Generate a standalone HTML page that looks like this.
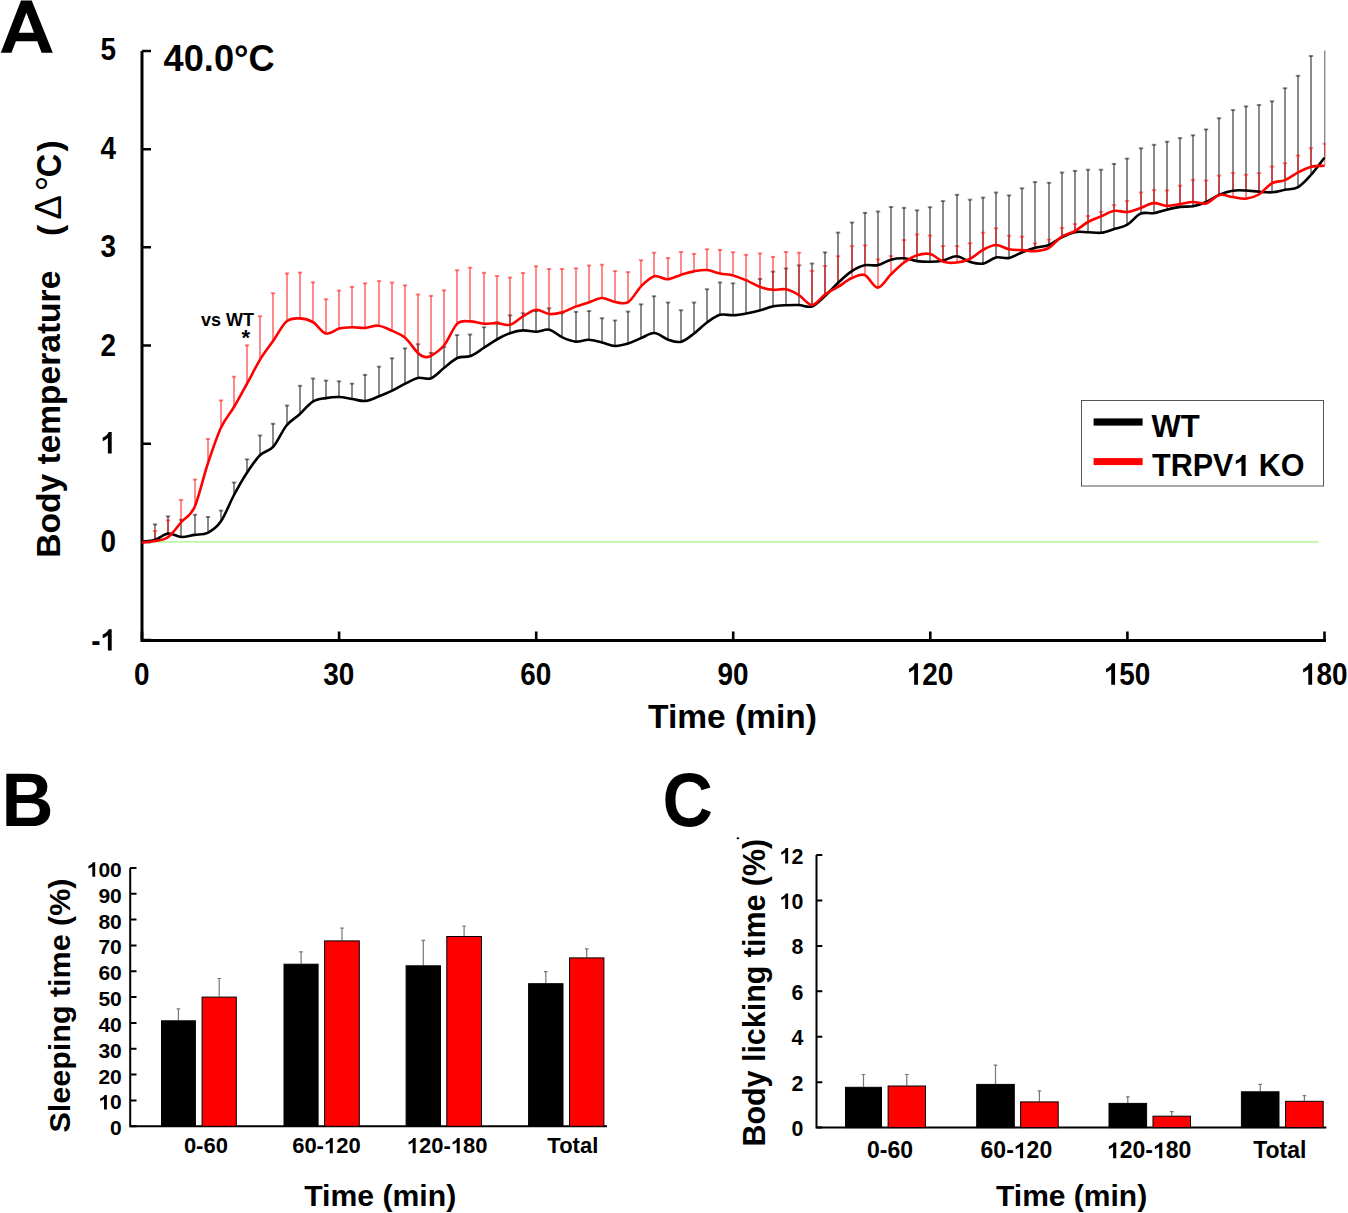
<!DOCTYPE html>
<html><head><meta charset="utf-8"><title>Figure</title>
<style>
html,body{margin:0;padding:0;background:#fff;}
svg{display:block;font-family:"Liberation Sans",sans-serif;}
</style></head>
<body>
<svg width="1348" height="1213" viewBox="0 0 1348 1213">
<rect width="1348" height="1213" fill="#fff"/>
<path fill="#000" fill-rule="evenodd" d="M0.8,52.8L21,0.4H31.7L52.8,52.8H41.6L37.3,41.2H15.9L11.5,52.8Z M18.8,32.8H34L26.4,12.8Z"/>
<path d="M142,51 V640.5 H1326" stroke="#000" stroke-width="3" fill="none"/>
<path d="M142,51.0h9 M142,149.2h9 M142,247.3h9 M142,345.5h9 M142,443.7h9 M142,541.9h9 M142,640.0h9 M142.0,640.5v-9 M339.1,640.5v-9 M536.2,640.5v-9 M733.2,640.5v-9 M930.3,640.5v-9 M1127.4,640.5v-9 M1324.5,640.5v-9" stroke="#000" stroke-width="2.6" fill="none"/>
<text transform="translate(116.00,59.90) scale(0.9,1)" font-size="31" font-weight="bold" text-anchor="end">5</text>
<text transform="translate(116.00,159.00) scale(0.9,1)" font-size="31" font-weight="bold" text-anchor="end">4</text>
<text transform="translate(116.00,256.70) scale(0.9,1)" font-size="31" font-weight="bold" text-anchor="end">3</text>
<text transform="translate(116.00,355.80) scale(0.9,1)" font-size="31" font-weight="bold" text-anchor="end">2</text>
<text transform="translate(116.00,453.40) scale(0.9,1)" font-size="31" font-weight="bold" text-anchor="end"> </text>
<text transform="translate(116.00,551.90) scale(0.9,1)" font-size="31" font-weight="bold" text-anchor="end">0</text>
<text transform="translate(116.00,650.50) scale(0.9,1)" font-size="31" font-weight="bold" text-anchor="end">- </text>
<text transform="translate(141.70,684.70) scale(0.9,1)" font-size="31" font-weight="bold" text-anchor="middle">0</text>
<text transform="translate(338.78,684.70) scale(0.9,1)" font-size="31" font-weight="bold" text-anchor="middle">30</text>
<text transform="translate(535.86,684.70) scale(0.9,1)" font-size="31" font-weight="bold" text-anchor="middle">60</text>
<text transform="translate(732.94,684.70) scale(0.9,1)" font-size="31" font-weight="bold" text-anchor="middle">90</text>
<text transform="translate(930.02,684.70) scale(0.9,1)" font-size="31" font-weight="bold" text-anchor="middle"> 20</text>
<text transform="translate(1127.10,684.70) scale(0.9,1)" font-size="31" font-weight="bold" text-anchor="middle"> 50</text>
<text transform="translate(1324.18,684.70) scale(0.9,1)" font-size="31" font-weight="bold" text-anchor="middle"> 80</text>
<text x="648" y="728.3" font-size="34" font-weight="bold" textLength="169" lengthAdjust="spacingAndGlyphs">Time (min)</text>
<text transform="translate(163.60,71.40) scale(0.978,1)" font-size="37" font-weight="bold">40.0°C</text>
<text transform="translate(60,557.7) rotate(-90)" x="0" y="0" font-size="34" font-weight="bold" textLength="287" lengthAdjust="spacingAndGlyphs">Body temperature</text>
<text transform="translate(61,236) rotate(-90)" x="0" y="0" font-size="34" font-weight="bold">(</text>
<text transform="translate(61,219.6) rotate(-90)" x="0" y="0" font-size="36.5">Δ</text>
<text transform="translate(63.6,191.5) rotate(-90)" x="0" y="0" font-size="40">°</text>
<text transform="translate(61,177.2) rotate(-90) scale(0.9,1)" x="0" y="0" font-size="36" font-weight="bold">C</text>
<text transform="translate(61,151.5) rotate(-90)" x="0" y="0" font-size="34" font-weight="bold">)</text>
<path d="M143,541.9H1318.6" stroke="#bdf8a4" stroke-width="1.6"/>
<g stroke="rgba(0,0,0,0.46)" stroke-width="2" fill="none"><path d="M155,539.8V524.1"/><path d="M152.8,524.4h4.4"/><path d="M168,533.5V516.1"/><path d="M165.8,516.4h4.4"/><path d="M181,537.0V519.5"/><path d="M178.8,519.8h4.4"/><path d="M195,534.9V514.5"/><path d="M192.8,514.8h4.4"/><path d="M208,532.8V516.7"/><path d="M205.8,517.0h4.4"/><path d="M221,521.6V510.3"/><path d="M218.8,510.6h4.4"/><path d="M234,495.0V482.2"/><path d="M231.8,482.5h4.4"/><path d="M247,472.5V459.0"/><path d="M244.8,459.3h4.4"/><path d="M260,455.0V435.2"/><path d="M257.8,435.5h4.4"/><path d="M273,446.6V423.5"/><path d="M270.8,423.8h4.4"/><path d="M287,425.5V405.2"/><path d="M284.8,405.5h4.4"/><path d="M300,414.2V385.5"/><path d="M297.8,385.8h4.4"/><path d="M313,401.6V378.2"/><path d="M310.8,378.5h4.4"/><path d="M326,398.1V380.3"/><path d="M323.8,380.6h4.4"/><path d="M339,397.0V381.0"/><path d="M336.8,381.3h4.4"/><path d="M352,399.0V383.3"/><path d="M349.8,383.6h4.4"/><path d="M365,401.0V374.6"/><path d="M362.8,374.9h4.4"/><path d="M379,396.5V366.4"/><path d="M376.8,366.7h4.4"/><path d="M392,390.9V358.0"/><path d="M389.8,358.3h4.4"/><path d="M405,383.9V348.1"/><path d="M402.8,348.4h4.4"/><path d="M418,377.9V343.9"/><path d="M415.8,344.2h4.4"/><path d="M431,378.3V352.6"/><path d="M428.8,352.9h4.4"/><path d="M444,367.8V346.7"/><path d="M441.8,347.0h4.4"/><path d="M457,358.0V334.8"/><path d="M454.8,335.1h4.4"/><path d="M470,356.0V334.2"/><path d="M467.8,334.5h4.4"/><path d="M484,348.0V326.9"/><path d="M481.8,327.2h4.4"/><path d="M497,339.5V322.0"/><path d="M494.8,322.3h4.4"/><path d="M510,333.2V315.0"/><path d="M507.8,315.3h4.4"/><path d="M523,330.4V312.9"/><path d="M520.8,313.2h4.4"/><path d="M536,331.8V310.8"/><path d="M533.8,311.1h4.4"/><path d="M549,329.7V308.0"/><path d="M546.8,308.3h4.4"/><path d="M562,337.4V312.9"/><path d="M559.8,313.2h4.4"/><path d="M576,341.6V311.5"/><path d="M573.8,311.8h4.4"/><path d="M589,339.8V310.8"/><path d="M586.8,311.1h4.4"/><path d="M602,342.5V317.9"/><path d="M599.8,318.2h4.4"/><path d="M615,346.0V320.2"/><path d="M612.8,320.5h4.4"/><path d="M628,343.6V311.3"/><path d="M625.8,311.6h4.4"/><path d="M641,338.0V304.0"/><path d="M638.8,304.3h4.4"/><path d="M654,333.0V295.9"/><path d="M651.8,296.2h4.4"/><path d="M668,339.4V302.2"/><path d="M665.8,302.5h4.4"/><path d="M681,341.9V309.9"/><path d="M678.8,310.2h4.4"/><path d="M694,333.7V302.2"/><path d="M691.8,302.5h4.4"/><path d="M707,322.5V288.9"/><path d="M704.8,289.2h4.4"/><path d="M720,314.8V282.2"/><path d="M717.8,282.5h4.4"/><path d="M733,315.3V283.0"/><path d="M730.8,283.3h4.4"/><path d="M746,313.5V279.7"/><path d="M743.8,280.0h4.4"/><path d="M760,310.6V278.6"/><path d="M757.8,278.9h4.4"/><path d="M773,306.4V271.3"/><path d="M770.8,271.6h4.4"/><path d="M786,305.2V268.2"/><path d="M783.8,268.5h4.4"/><path d="M799,305.0V265.0"/><path d="M796.8,265.3h4.4"/><path d="M812,306.4V263.2"/><path d="M809.8,263.5h4.4"/><path d="M825,295.8V252.1"/><path d="M822.8,252.4h4.4"/><path d="M838,282.5V232.3"/><path d="M835.8,232.6h4.4"/><path d="M852,271.3V222.2"/><path d="M849.8,222.5h4.4"/><path d="M865,265.2V212.6"/><path d="M862.8,212.9h4.4"/><path d="M878,265.2V211.2"/><path d="M875.8,211.5h4.4"/><path d="M891,259.7V206.7"/><path d="M888.8,207.0h4.4"/><path d="M904,258.3V207.6"/><path d="M901.8,207.9h4.4"/><path d="M917,261.1V210.0"/><path d="M914.8,210.3h4.4"/><path d="M930,261.8V206.9"/><path d="M927.8,207.2h4.4"/><path d="M943,260.4V200.8"/><path d="M940.8,201.1h4.4"/><path d="M957,256.2V194.5"/><path d="M954.8,194.8h4.4"/><path d="M970,261.8V199.4"/><path d="M967.8,199.7h4.4"/><path d="M983,263.6V197.3"/><path d="M980.8,197.6h4.4"/><path d="M996,257.5V192.2"/><path d="M993.8,192.5h4.4"/><path d="M1009,257.9V195.1"/><path d="M1006.8,195.4h4.4"/><path d="M1022,252.2V188.0"/><path d="M1019.8,188.3h4.4"/><path d="M1035,247.7V181.8"/><path d="M1032.8,182.1h4.4"/><path d="M1049,245.1V182.5"/><path d="M1046.8,182.8h4.4"/><path d="M1062,237.4V172.2"/><path d="M1059.8,172.5h4.4"/><path d="M1075,232.2V170.6"/><path d="M1072.8,170.9h4.4"/><path d="M1088,232.2V169.4"/><path d="M1085.8,169.7h4.4"/><path d="M1101,232.8V169.4"/><path d="M1098.8,169.7h4.4"/><path d="M1114,229.0V163.6"/><path d="M1111.8,163.9h4.4"/><path d="M1127,224.6V158.3"/><path d="M1124.8,158.6h4.4"/><path d="M1141,213.6V148.0"/><path d="M1138.8,148.3h4.4"/><path d="M1154,213.2V144.5"/><path d="M1151.8,144.8h4.4"/><path d="M1167,209.7V141.4"/><path d="M1164.8,141.7h4.4"/><path d="M1180,206.9V137.8"/><path d="M1177.8,138.1h4.4"/><path d="M1193,206.2V135.0"/><path d="M1190.8,135.3h4.4"/><path d="M1206,202.0V129.1"/><path d="M1203.8,129.4h4.4"/><path d="M1219,194.7V117.9"/><path d="M1216.8,118.2h4.4"/><path d="M1233,190.7V109.8"/><path d="M1230.8,110.1h4.4"/><path d="M1246,190.5V106.1"/><path d="M1243.8,106.4h4.4"/><path d="M1259,191.7V104.7"/><path d="M1256.8,105.0h4.4"/><path d="M1272,192.3V101.0"/><path d="M1269.8,101.3h4.4"/><path d="M1285,189.7V87.9"/><path d="M1282.8,88.2h4.4"/><path d="M1298,187.1V75.5"/><path d="M1295.8,75.8h4.4"/><path d="M1311,174.5V55.7"/><path d="M1308.8,56.0h4.4"/><path d="M1324.7,157.7V50.5" stroke-width="1.4"/></g>
<g stroke="rgba(255,0,0,0.46)" stroke-width="2" fill="none"><path d="M155,541.0V530.7"/><path d="M152.8,531.0h4.4"/><path d="M168,537.0V520.1"/><path d="M165.8,520.4h4.4"/><path d="M181,522.0V499.6"/><path d="M178.8,499.9h4.4"/><path d="M195,507.0V479.2"/><path d="M192.8,479.5h4.4"/><path d="M208,464.0V438.7"/><path d="M205.8,439.0h4.4"/><path d="M221,428.0V400.1"/><path d="M218.8,400.4h4.4"/><path d="M234,407.0V376.4"/><path d="M231.8,376.7h4.4"/><path d="M247,383.5V345.0"/><path d="M244.8,345.3h4.4"/><path d="M260,359.3V315.9"/><path d="M257.8,316.2h4.4"/><path d="M273,340.5V292.9"/><path d="M270.8,293.2h4.4"/><path d="M287,321.5V273.1"/><path d="M284.8,273.4h4.4"/><path d="M300,318.4V272.3"/><path d="M297.8,272.6h4.4"/><path d="M313,322.0V282.0"/><path d="M310.8,282.3h4.4"/><path d="M326,333.6V298.9"/><path d="M323.8,299.2h4.4"/><path d="M339,328.6V290.2"/><path d="M336.8,290.5h4.4"/><path d="M352,327.3V286.6"/><path d="M349.8,286.9h4.4"/><path d="M365,327.9V283.0"/><path d="M362.8,283.3h4.4"/><path d="M379,325.7V280.8"/><path d="M376.8,281.1h4.4"/><path d="M392,330.6V282.2"/><path d="M389.8,282.5h4.4"/><path d="M405,337.6V285.0"/><path d="M402.8,285.3h4.4"/><path d="M418,353.0V294.2"/><path d="M415.8,294.5h4.4"/><path d="M431,355.8V295.6"/><path d="M428.8,295.9h4.4"/><path d="M444,345.3V290.0"/><path d="M441.8,290.3h4.4"/><path d="M457,323.6V269.9"/><path d="M454.8,270.2h4.4"/><path d="M470,321.4V267.4"/><path d="M467.8,267.7h4.4"/><path d="M484,323.8V272.5"/><path d="M481.8,272.8h4.4"/><path d="M497,323.1V275.7"/><path d="M494.8,276.0h4.4"/><path d="M510,324.8V277.2"/><path d="M507.8,277.5h4.4"/><path d="M523,316.4V272.7"/><path d="M520.8,273.0h4.4"/><path d="M536,309.8V265.9"/><path d="M533.8,266.2h4.4"/><path d="M549,314.0V268.7"/><path d="M546.8,269.0h4.4"/><path d="M562,312.2V268.7"/><path d="M559.8,269.0h4.4"/><path d="M576,306.6V268.0"/><path d="M573.8,268.3h4.4"/><path d="M589,302.4V265.2"/><path d="M586.8,265.5h4.4"/><path d="M602,298.0V264.4"/><path d="M599.8,264.7h4.4"/><path d="M615,302.0V270.8"/><path d="M612.8,271.1h4.4"/><path d="M628,302.2V271.8"/><path d="M625.8,272.1h4.4"/><path d="M641,286.1V259.9"/><path d="M638.8,260.2h4.4"/><path d="M654,276.3V252.4"/><path d="M651.8,252.7h4.4"/><path d="M668,279.3V257.8"/><path d="M665.8,258.1h4.4"/><path d="M681,274.9V251.7"/><path d="M678.8,252.0h4.4"/><path d="M694,271.4V253.6"/><path d="M691.8,253.9h4.4"/><path d="M707,270.0V248.9"/><path d="M704.8,249.2h4.4"/><path d="M720,273.5V249.6"/><path d="M717.8,249.9h4.4"/><path d="M733,275.4V251.9"/><path d="M730.8,252.2h4.4"/><path d="M746,280.4V254.5"/><path d="M743.8,254.8h4.4"/><path d="M760,286.7V253.1"/><path d="M757.8,253.4h4.4"/><path d="M773,289.8V256.6"/><path d="M770.8,256.9h4.4"/><path d="M786,289.3V251.7"/><path d="M783.8,252.0h4.4"/><path d="M799,295.1V252.4"/><path d="M796.8,252.7h4.4"/><path d="M812,305.0V270.6"/><path d="M809.8,270.9h4.4"/><path d="M825,294.4V265.7"/><path d="M822.8,266.0h4.4"/><path d="M838,286.7V255.9"/><path d="M835.8,256.2h4.4"/><path d="M852,278.3V245.8"/><path d="M849.8,246.1h4.4"/><path d="M865,275.0V245.0"/><path d="M862.8,245.3h4.4"/><path d="M878,287.6V259.0"/><path d="M875.8,259.3h4.4"/><path d="M891,274.4V255.8"/><path d="M888.8,256.1h4.4"/><path d="M904,262.5V239.7"/><path d="M901.8,240.0h4.4"/><path d="M917,255.2V234.1"/><path d="M914.8,234.4h4.4"/><path d="M930,254.1V235.2"/><path d="M927.8,235.5h4.4"/><path d="M943,261.8V245.7"/><path d="M940.8,246.0h4.4"/><path d="M957,262.5V245.7"/><path d="M954.8,246.0h4.4"/><path d="M970,259.0V242.9"/><path d="M967.8,243.2h4.4"/><path d="M983,249.9V232.4"/><path d="M980.8,232.7h4.4"/><path d="M996,245.0V227.9"/><path d="M993.8,228.2h4.4"/><path d="M1009,249.3V235.4"/><path d="M1006.8,235.7h4.4"/><path d="M1022,250.1V236.3"/><path d="M1019.8,236.6h4.4"/><path d="M1035,251.2V243.0"/><path d="M1032.8,243.3h4.4"/><path d="M1049,248.0V239.3"/><path d="M1046.8,239.6h4.4"/><path d="M1062,236.7V227.6"/><path d="M1059.8,227.9h4.4"/><path d="M1075,231.1V223.8"/><path d="M1072.8,224.1h4.4"/><path d="M1088,222.0V215.7"/><path d="M1085.8,216.0h4.4"/><path d="M1101,216.4V211.5"/><path d="M1098.8,211.8h4.4"/><path d="M1114,210.8V204.8"/><path d="M1111.8,205.1h4.4"/><path d="M1127,212.0V200.8"/><path d="M1124.8,201.1h4.4"/><path d="M1141,208.0V192.2"/><path d="M1138.8,192.5h4.4"/><path d="M1154,203.1V189.8"/><path d="M1151.8,190.1h4.4"/><path d="M1167,205.9V190.1"/><path d="M1164.8,190.4h4.4"/><path d="M1180,204.1V185.4"/><path d="M1177.8,185.7h4.4"/><path d="M1193,202.0V179.5"/><path d="M1190.8,179.8h4.4"/><path d="M1206,203.4V180.2"/><path d="M1203.8,180.5h4.4"/><path d="M1219,195.0V175.3"/><path d="M1216.8,175.6h4.4"/><path d="M1233,197.0V172.8"/><path d="M1230.8,173.1h4.4"/><path d="M1246,198.7V174.4"/><path d="M1243.8,174.7h4.4"/><path d="M1259,194.5V172.8"/><path d="M1256.8,173.1h4.4"/><path d="M1272,183.3V166.3"/><path d="M1269.8,166.6h4.4"/><path d="M1285,180.1V162.9"/><path d="M1282.8,163.2h4.4"/><path d="M1298,172.4V155.2"/><path d="M1295.8,155.5h4.4"/><path d="M1311,166.8V147.9"/><path d="M1308.8,148.2h4.4"/><path d="M1324.7,165.8V143.4" stroke-width="1.4"/><path d="M1322.5,143.7H1325.4"/></g>
<path d="M142.0,542.0 C144.2,541.6 150.8,541.2 155.1,539.8 C159.5,538.4 163.9,534.0 168.3,533.5 C172.7,533.0 177.0,536.8 181.4,537.0 C185.8,537.2 190.2,535.6 194.6,534.9 C198.9,534.2 203.3,535.0 207.7,532.8 C212.1,530.6 216.5,527.9 220.8,521.6 C225.2,515.3 229.6,503.2 234.0,495.0 C238.4,486.8 242.7,479.2 247.1,472.5 C251.5,465.8 255.9,459.3 260.2,455.0 C264.6,450.7 269.0,451.5 273.4,446.6 C277.8,441.7 282.1,430.9 286.5,425.5 C290.9,420.1 295.3,418.2 299.7,414.2 C304.0,410.2 308.4,404.3 312.8,401.6 C317.2,398.9 321.6,398.9 325.9,398.1 C330.3,397.3 334.7,396.9 339.1,397.0 C343.5,397.1 347.8,398.3 352.2,399.0 C356.6,399.7 361.0,401.4 365.4,401.0 C369.7,400.6 374.1,398.2 378.5,396.5 C382.9,394.8 387.3,393.0 391.6,390.9 C396.0,388.8 400.4,386.1 404.8,383.9 C409.2,381.7 413.5,378.8 417.9,377.9 C422.3,377.0 426.7,380.0 431.1,378.3 C435.4,376.6 439.8,371.2 444.2,367.8 C448.6,364.4 453.0,360.0 457.3,358.0 C461.7,356.0 466.1,357.7 470.5,356.0 C474.9,354.3 479.2,350.8 483.6,348.0 C488.0,345.2 492.4,342.0 496.8,339.5 C501.1,337.0 505.5,334.7 509.9,333.2 C514.3,331.7 518.6,330.6 523.0,330.4 C527.4,330.2 531.8,331.9 536.2,331.8 C540.5,331.7 544.9,328.8 549.3,329.7 C553.7,330.6 558.1,335.4 562.4,337.4 C566.8,339.4 571.2,341.2 575.6,341.6 C580.0,342.0 584.3,339.7 588.7,339.8 C593.1,339.9 597.5,341.5 601.9,342.5 C606.2,343.5 610.6,345.8 615.0,346.0 C619.4,346.2 623.8,344.9 628.1,343.6 C632.5,342.3 636.9,339.8 641.3,338.0 C645.7,336.2 650.0,332.8 654.4,333.0 C658.8,333.2 663.2,337.9 667.6,339.4 C671.9,340.9 676.3,342.8 680.7,341.9 C685.1,340.9 689.5,336.9 693.8,333.7 C698.2,330.5 702.6,325.6 707.0,322.5 C711.4,319.4 715.7,316.0 720.1,314.8 C724.5,313.6 728.9,315.5 733.2,315.3 C737.6,315.1 742.0,314.3 746.4,313.5 C750.8,312.7 755.1,311.8 759.5,310.6 C763.9,309.4 768.3,307.3 772.7,306.4 C777.0,305.5 781.4,305.4 785.8,305.2 C790.2,305.0 794.6,304.8 798.9,305.0 C803.3,305.2 807.7,307.9 812.1,306.4 C816.5,304.9 820.8,299.8 825.2,295.8 C829.6,291.8 834.0,286.6 838.4,282.5 C842.7,278.4 847.1,274.2 851.5,271.3 C855.9,268.4 860.3,266.2 864.6,265.2 C869.0,264.2 873.4,266.1 877.8,265.2 C882.2,264.3 886.5,260.8 890.9,259.7 C895.3,258.6 899.7,258.1 904.1,258.3 C908.4,258.5 912.8,260.5 917.2,261.1 C921.6,261.7 926.0,261.9 930.3,261.8 C934.7,261.7 939.1,261.3 943.5,260.4 C947.9,259.5 952.2,256.0 956.6,256.2 C961.0,256.4 965.4,260.6 969.8,261.8 C974.1,263.0 978.5,264.3 982.9,263.6 C987.3,262.9 991.6,258.4 996.0,257.5 C1000.4,256.6 1004.8,258.8 1009.2,257.9 C1013.5,257.0 1017.9,253.9 1022.3,252.2 C1026.7,250.5 1031.1,248.9 1035.4,247.7 C1039.8,246.5 1044.2,246.8 1048.6,245.1 C1053.0,243.4 1057.3,239.6 1061.7,237.4 C1066.1,235.2 1070.5,233.1 1074.9,232.2 C1079.2,231.3 1083.6,232.1 1088.0,232.2 C1092.4,232.3 1096.8,233.3 1101.1,232.8 C1105.5,232.3 1109.9,230.4 1114.3,229.0 C1118.7,227.6 1123.0,227.2 1127.4,224.6 C1131.8,222.0 1136.2,215.5 1140.6,213.6 C1144.9,211.7 1149.3,213.8 1153.7,213.2 C1158.1,212.5 1162.5,210.8 1166.8,209.7 C1171.2,208.6 1175.6,207.5 1180.0,206.9 C1184.4,206.3 1188.7,207.0 1193.1,206.2 C1197.5,205.4 1201.9,203.9 1206.2,202.0 C1210.6,200.1 1215.0,196.6 1219.4,194.7 C1223.8,192.8 1228.1,191.4 1232.5,190.7 C1236.9,190.0 1241.3,190.3 1245.7,190.5 C1250.0,190.7 1254.4,191.4 1258.8,191.7 C1263.2,192.0 1267.6,192.6 1271.9,192.3 C1276.3,192.0 1280.7,190.6 1285.1,189.7 C1289.5,188.8 1293.8,189.6 1298.2,187.1 C1302.6,184.6 1307.0,179.4 1311.4,174.5 C1315.7,169.6 1322.3,160.5 1324.5,157.7" stroke="#000" stroke-width="2.6" fill="none" stroke-linejoin="round"/>
<path d="M142.0,542.4 C144.2,542.2 150.8,541.9 155.1,541.0 C159.5,540.1 163.9,540.2 168.3,537.0 C172.7,533.8 177.0,527.0 181.4,522.0 C185.8,517.0 190.2,516.7 194.6,507.0 C198.9,497.3 203.3,477.2 207.7,464.0 C212.1,450.8 216.5,437.5 220.8,428.0 C225.2,418.5 229.6,414.4 234.0,407.0 C238.4,399.6 242.7,391.4 247.1,383.5 C251.5,375.6 255.9,366.5 260.2,359.3 C264.6,352.1 269.0,346.8 273.4,340.5 C277.8,334.2 282.1,325.2 286.5,321.5 C290.9,317.8 295.3,318.3 299.7,318.4 C304.0,318.5 308.4,319.5 312.8,322.0 C317.2,324.5 321.6,332.5 325.9,333.6 C330.3,334.7 334.7,329.7 339.1,328.6 C343.5,327.6 347.8,327.4 352.2,327.3 C356.6,327.2 361.0,328.2 365.4,327.9 C369.7,327.6 374.1,325.2 378.5,325.7 C382.9,326.1 387.3,328.6 391.6,330.6 C396.0,332.6 400.4,333.9 404.8,337.6 C409.2,341.3 414.6,349.8 417.9,353.0 C421.2,356.2 422.3,356.3 424.5,356.8 C426.7,357.3 427.8,357.7 431.1,355.8 C434.3,353.9 439.8,350.7 444.2,345.3 C448.6,339.9 453.0,327.6 457.3,323.6 C461.7,319.6 466.1,321.4 470.5,321.4 C474.9,321.4 479.2,323.5 483.6,323.8 C488.0,324.1 492.4,322.9 496.8,323.1 C501.1,323.3 505.5,325.9 509.9,324.8 C514.3,323.7 518.6,318.9 523.0,316.4 C527.4,313.9 531.8,310.2 536.2,309.8 C540.5,309.4 544.9,313.6 549.3,314.0 C553.7,314.4 558.1,313.4 562.4,312.2 C566.8,311.0 571.2,308.2 575.6,306.6 C580.0,305.0 584.3,303.8 588.7,302.4 C593.1,301.0 597.5,298.1 601.9,298.0 C606.2,297.9 610.6,301.3 615.0,302.0 C619.4,302.7 623.8,304.8 628.1,302.2 C632.5,299.6 636.9,290.4 641.3,286.1 C645.7,281.8 650.0,277.4 654.4,276.3 C658.8,275.2 663.2,279.5 667.6,279.3 C671.9,279.1 676.3,276.2 680.7,274.9 C685.1,273.6 689.5,272.2 693.8,271.4 C698.2,270.6 702.6,269.6 707.0,270.0 C711.4,270.4 715.7,272.6 720.1,273.5 C724.5,274.4 728.9,274.2 733.2,275.4 C737.6,276.5 742.0,278.5 746.4,280.4 C750.8,282.3 755.1,285.1 759.5,286.7 C763.9,288.3 768.3,289.4 772.7,289.8 C777.0,290.2 781.4,288.4 785.8,289.3 C790.2,290.2 794.6,292.5 798.9,295.1 C803.3,297.7 807.7,305.1 812.1,305.0 C816.5,304.9 820.8,297.4 825.2,294.4 C829.6,291.3 834.0,289.4 838.4,286.7 C842.7,284.0 847.1,280.2 851.5,278.3 C855.9,276.4 860.3,273.4 864.6,275.0 C869.0,276.6 873.4,287.7 877.8,287.6 C882.2,287.5 886.5,278.6 890.9,274.4 C895.3,270.2 899.7,265.7 904.1,262.5 C908.4,259.3 912.8,256.6 917.2,255.2 C921.6,253.8 926.0,253.0 930.3,254.1 C934.7,255.2 939.1,260.4 943.5,261.8 C947.9,263.2 952.2,263.0 956.6,262.5 C961.0,262.0 965.4,261.1 969.8,259.0 C974.1,256.9 978.5,252.2 982.9,249.9 C987.3,247.6 991.6,245.1 996.0,245.0 C1000.4,244.9 1004.8,248.5 1009.2,249.3 C1013.5,250.2 1017.9,249.8 1022.3,250.1 C1026.7,250.4 1031.1,251.5 1035.4,251.2 C1039.8,250.8 1044.2,250.4 1048.6,248.0 C1053.0,245.6 1057.3,239.5 1061.7,236.7 C1066.1,233.9 1070.5,233.5 1074.9,231.1 C1079.2,228.7 1083.6,224.4 1088.0,222.0 C1092.4,219.6 1096.8,218.3 1101.1,216.4 C1105.5,214.5 1109.9,211.5 1114.3,210.8 C1118.7,210.1 1123.0,212.5 1127.4,212.0 C1131.8,211.5 1136.2,209.5 1140.6,208.0 C1144.9,206.5 1149.3,203.4 1153.7,203.1 C1158.1,202.8 1162.5,205.7 1166.8,205.9 C1171.2,206.1 1175.6,204.8 1180.0,204.1 C1184.4,203.4 1188.7,202.1 1193.1,202.0 C1197.5,201.9 1201.9,204.6 1206.2,203.4 C1210.6,202.2 1215.0,196.1 1219.4,195.0 C1223.8,193.9 1228.1,196.4 1232.5,197.0 C1236.9,197.6 1241.3,199.1 1245.7,198.7 C1250.0,198.3 1254.4,197.1 1258.8,194.5 C1263.2,191.9 1267.6,185.7 1271.9,183.3 C1276.3,180.9 1280.7,181.9 1285.1,180.1 C1289.5,178.3 1293.8,174.6 1298.2,172.4 C1302.6,170.2 1307.0,167.9 1311.4,166.8 C1315.7,165.7 1322.3,166.0 1324.5,165.8" stroke="#f00" stroke-width="2.6" fill="none" stroke-linejoin="round"/>
<text x="201" y="325.8" font-size="18" font-weight="bold">vs WT</text>
<text x="241.5" y="345" font-size="22" font-weight="bold">*</text>
<rect x="1081.5" y="400.5" width="242" height="85.5" fill="#fff" stroke="#555" stroke-width="1"/>
<rect x="1093.6" y="418.4" width="49" height="7.2" fill="#000"/>
<rect x="1093.6" y="458.1" width="49" height="7" fill="#f00"/>
<text x="1151.5" y="436.7" font-size="31" font-weight="bold">WT</text>
<text x="1152" y="476.1" font-size="30.5" font-weight="bold">TRPV  KO</text>
<text transform="translate(1.50,825.80) scale(0.947,1)" font-size="76" font-weight="bold">B</text>
<path d="M130.2,867.9 V1126.3 H607" stroke="#000" stroke-width="2" fill="none"/>
<path d="M130,1126.3h6.5 M130,1100.5h6.5 M130,1074.6h6.5 M130,1048.8h6.5 M130,1022.9h6.5 M130,997.1h6.5 M130,971.3h6.5 M130,945.4h6.5 M130,919.6h6.5 M130,893.7h6.5 M130,867.9h6.5" stroke="#000" stroke-width="2" fill="none"/>
<text x="121.8" y="1135.2" font-size="21" font-weight="bold" text-anchor="end">0</text>
<text x="121.8" y="1109.4" font-size="21" font-weight="bold" text-anchor="end"> 0</text>
<text x="121.8" y="1083.5" font-size="21" font-weight="bold" text-anchor="end">20</text>
<text x="121.8" y="1057.7" font-size="21" font-weight="bold" text-anchor="end">30</text>
<text x="121.8" y="1031.8" font-size="21" font-weight="bold" text-anchor="end">40</text>
<text x="121.8" y="1006.0" font-size="21" font-weight="bold" text-anchor="end">50</text>
<text x="121.8" y="980.2" font-size="21" font-weight="bold" text-anchor="end">60</text>
<text x="121.8" y="954.3" font-size="21" font-weight="bold" text-anchor="end">70</text>
<text x="121.8" y="928.5" font-size="21" font-weight="bold" text-anchor="end">80</text>
<text x="121.8" y="902.6" font-size="21" font-weight="bold" text-anchor="end">90</text>
<text x="121.8" y="876.8" font-size="21" font-weight="bold" text-anchor="end"> 00</text>
<text transform="translate(70.2,1132.5) rotate(-90)" font-size="30" font-weight="bold" textLength="254" lengthAdjust="spacingAndGlyphs">Sleeping time (%)</text>
<path d="M178.4,1020.3V1008.3M176.6,1008.8h3.6" stroke="#777" stroke-width="1.2" fill="none"/>
<rect x="161.5" y="1020.8" width="33.9" height="105.5" fill="#000" stroke="#000" stroke-width="1"/>
<path d="M219.2,996.6V978.0M217.4,978.5h3.6" stroke="#777" stroke-width="1.2" fill="none"/>
<rect x="202.1" y="997.1" width="34.2" height="129.2" fill="#f00" stroke="#000" stroke-width="1"/>
<path d="M301.1,963.7V951.3M299.2,951.8h3.6" stroke="#777" stroke-width="1.2" fill="none"/>
<rect x="284.0" y="964.2" width="34.1" height="162.1" fill="#000" stroke="#000" stroke-width="1"/>
<path d="M342.0,940.4V927.7M340.2,928.2h3.6" stroke="#777" stroke-width="1.2" fill="none"/>
<rect x="324.6" y="940.9" width="34.7" height="185.4" fill="#f00" stroke="#000" stroke-width="1"/>
<path d="M423.3,965.3V939.8M421.5,940.3h3.6" stroke="#777" stroke-width="1.2" fill="none"/>
<rect x="406.1" y="965.8" width="34.4" height="160.5" fill="#000" stroke="#000" stroke-width="1"/>
<path d="M464.1,936.0V925.5M462.3,926.0h3.6" stroke="#777" stroke-width="1.2" fill="none"/>
<rect x="446.8" y="936.5" width="34.7" height="189.8" fill="#f00" stroke="#000" stroke-width="1"/>
<path d="M545.8,983.2V971.1M544.0,971.6h3.6" stroke="#777" stroke-width="1.2" fill="none"/>
<rect x="528.6" y="983.7" width="34.4" height="142.6" fill="#000" stroke="#000" stroke-width="1"/>
<path d="M586.7,957.4V948.3M584.9,948.8h3.6" stroke="#777" stroke-width="1.2" fill="none"/>
<rect x="569.5" y="957.9" width="34.4" height="168.4" fill="#f00" stroke="#000" stroke-width="1"/>
<text x="205.9" y="1153.2" font-size="22" font-weight="bold" text-anchor="middle">0-60</text>
<text x="326.4" y="1153.2" font-size="22" font-weight="bold" text-anchor="middle">60- 20</text>
<text x="447.2" y="1153.2" font-size="22" font-weight="bold" text-anchor="middle"> 20- 80</text>
<text x="572.8" y="1153.2" font-size="22" font-weight="bold" text-anchor="middle">Total</text>
<text x="304.2" y="1205.5" font-size="30" font-weight="bold" textLength="152" lengthAdjust="spacingAndGlyphs">Time (min)</text>
<text transform="translate(662.50,826.00) scale(0.915,1)" font-size="76.3" font-weight="bold">C</text>
<path d="M816.5,855 V1127.6 H1326.4" stroke="#000" stroke-width="2" fill="none"/>
<path d="M816.3,1127.6h6 M816.3,1082.2h6 M816.3,1036.7h6 M816.3,991.3h6 M816.3,945.9h6 M816.3,900.4h6 M816.3,855.0h6" stroke="#000" stroke-width="2" fill="none"/>
<text transform="translate(803.30,1136.10) scale(0.95,1)" font-size="22.5" font-weight="bold" text-anchor="end">0</text>
<text transform="translate(803.30,1090.67) scale(0.95,1)" font-size="22.5" font-weight="bold" text-anchor="end">2</text>
<text transform="translate(803.30,1045.24) scale(0.95,1)" font-size="22.5" font-weight="bold" text-anchor="end">4</text>
<text transform="translate(803.30,999.81) scale(0.95,1)" font-size="22.5" font-weight="bold" text-anchor="end">6</text>
<text transform="translate(803.30,954.38) scale(0.95,1)" font-size="22.5" font-weight="bold" text-anchor="end">8</text>
<text transform="translate(803.30,908.95) scale(0.95,1)" font-size="22.5" font-weight="bold" text-anchor="end"> 0</text>
<text transform="translate(803.30,863.52) scale(0.95,1)" font-size="22.5" font-weight="bold" text-anchor="end"> 2</text>
<text transform="translate(764.8,1146.6) rotate(-90)" font-size="31" font-weight="bold" textLength="307.8" lengthAdjust="spacingAndGlyphs">Body licking time (%)</text>
<path d="M863.5,1086.8V1074.0M861.7,1074.5h3.6" stroke="#777" stroke-width="1.2" fill="none"/>
<rect x="845.5" y="1087.3" width="36.0" height="40.3" fill="#000" stroke="#000" stroke-width="1"/>
<path d="M906.8,1085.5V1074.0M905.0,1074.5h3.6" stroke="#777" stroke-width="1.2" fill="none"/>
<rect x="888.1" y="1086.0" width="37.4" height="41.6" fill="#f00" stroke="#000" stroke-width="1"/>
<path d="M995.5,1083.9V1064.6M993.7,1065.1h3.6" stroke="#777" stroke-width="1.2" fill="none"/>
<rect x="976.7" y="1084.4" width="37.6" height="43.2" fill="#000" stroke="#000" stroke-width="1"/>
<path d="M1039.4,1101.4V1090.4M1037.6,1090.9h3.6" stroke="#777" stroke-width="1.2" fill="none"/>
<rect x="1020.6" y="1101.9" width="37.6" height="25.7" fill="#f00" stroke="#000" stroke-width="1"/>
<path d="M1127.8,1102.9V1096.4M1126.0,1096.9h3.6" stroke="#777" stroke-width="1.2" fill="none"/>
<rect x="1109.0" y="1103.4" width="37.6" height="24.2" fill="#000" stroke="#000" stroke-width="1"/>
<path d="M1171.8,1115.7V1111.2M1170.0,1111.7h3.6" stroke="#777" stroke-width="1.2" fill="none"/>
<rect x="1153.0" y="1116.2" width="37.5" height="11.4" fill="#f00" stroke="#000" stroke-width="1"/>
<path d="M1260.2,1091.3V1083.9M1258.4,1084.4h3.6" stroke="#777" stroke-width="1.2" fill="none"/>
<rect x="1241.4" y="1091.8" width="37.6" height="35.8" fill="#000" stroke="#000" stroke-width="1"/>
<path d="M1304.4,1100.8V1095.2M1302.6,1095.7h3.6" stroke="#777" stroke-width="1.2" fill="none"/>
<rect x="1285.6" y="1101.3" width="37.6" height="26.3" fill="#f00" stroke="#000" stroke-width="1"/>
<text x="890.0" y="1158.2" font-size="23" font-weight="bold" text-anchor="middle">0-60</text>
<text x="1016.4" y="1158.2" font-size="23" font-weight="bold" text-anchor="middle">60- 20</text>
<text x="1149.2" y="1158.2" font-size="23" font-weight="bold" text-anchor="middle"> 20- 80</text>
<text x="1279.8" y="1158.2" font-size="23" font-weight="bold" text-anchor="middle">Total</text>
<text x="996" y="1206" font-size="30" font-weight="bold" textLength="151.2" lengthAdjust="spacingAndGlyphs">Time (min)</text>
<ellipse cx="737.9" cy="838.2" rx="1.3" ry="1" fill="#000"/>
<g fill="#000"><path transform="matrix(0.01363,0.00000,0.00000,-0.01514,100.48,453.40)" d="M823,0H543V1014Q390,875 165,808V1056Q285,1093 420,1190Q556,1285 598,1409H823Z"/><path transform="matrix(0.01363,0.00000,0.00000,-0.01514,100.48,650.50)" d="M823,0H543V1014Q390,875 165,808V1056Q285,1093 420,1190Q556,1285 598,1409H823Z"/><path transform="matrix(0.01363,0.00000,0.00000,-0.01514,906.75,684.70)" d="M823,0H543V1014Q390,875 165,808V1056Q285,1093 420,1190Q556,1285 598,1409H823Z"/><path transform="matrix(0.01363,0.00000,0.00000,-0.01514,1103.83,684.70)" d="M823,0H543V1014Q390,875 165,808V1056Q285,1093 420,1190Q556,1285 598,1409H823Z"/><path transform="matrix(0.01363,0.00000,0.00000,-0.01514,1300.91,684.70)" d="M823,0H543V1014Q390,875 165,808V1056Q285,1093 420,1190Q556,1285 598,1409H823Z"/><path transform="matrix(0.01491,0.00000,0.00000,-0.01489,1233.33,476.10)" d="M823,0H543V1014Q390,875 165,808V1056Q285,1093 420,1190Q556,1285 598,1409H823Z"/><path transform="matrix(0.01026,0.00000,0.00000,-0.01025,98.44,1109.40)" d="M823,0H543V1014Q390,875 165,808V1056Q285,1093 420,1190Q556,1285 598,1409H823Z"/><path transform="matrix(0.01026,0.00000,0.00000,-0.01025,86.75,876.80)" d="M823,0H543V1014Q390,875 165,808V1056Q285,1093 420,1190Q556,1285 598,1409H823Z"/><path transform="matrix(0.01076,0.00000,0.00000,-0.01074,323.94,1153.20)" d="M823,0H543V1014Q390,875 165,808V1056Q285,1093 420,1190Q556,1285 598,1409H823Z"/><path transform="matrix(0.01076,0.00000,0.00000,-0.01074,406.83,1153.20)" d="M823,0H543V1014Q390,875 165,808V1056Q285,1093 420,1190Q556,1285 598,1409H823Z"/><path transform="matrix(0.01076,0.00000,0.00000,-0.01074,450.86,1153.20)" d="M823,0H543V1014Q390,875 165,808V1056Q285,1093 420,1190Q556,1285 598,1409H823Z"/><path transform="matrix(0.01044,0.00000,0.00000,-0.01099,779.53,908.95)" d="M823,0H543V1014Q390,875 165,808V1056Q285,1093 420,1190Q556,1285 598,1409H823Z"/><path transform="matrix(0.01044,0.00000,0.00000,-0.01099,779.53,863.52)" d="M823,0H543V1014Q390,875 165,808V1056Q285,1093 420,1190Q556,1285 598,1409H823Z"/><path transform="matrix(0.01125,0.00000,0.00000,-0.01123,1013.82,1158.20)" d="M823,0H543V1014Q390,875 165,808V1056Q285,1093 420,1190Q556,1285 598,1409H823Z"/><path transform="matrix(0.01124,0.00000,0.00000,-0.01123,1106.99,1158.20)" d="M823,0H543V1014Q390,875 165,808V1056Q285,1093 420,1190Q556,1285 598,1409H823Z"/><path transform="matrix(0.01124,0.00000,0.00000,-0.01123,1153.02,1158.20)" d="M823,0H543V1014Q390,875 165,808V1056Q285,1093 420,1190Q556,1285 598,1409H823Z"/></g>
</svg>
</body></html>
